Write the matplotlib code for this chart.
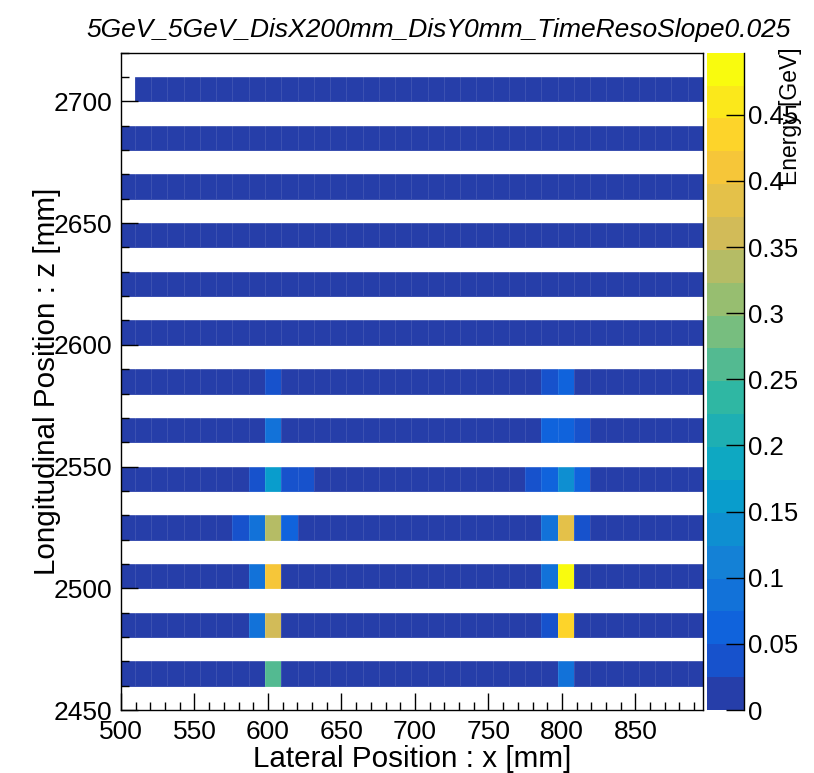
import numpy as np
import matplotlib
matplotlib.use("Agg")
import matplotlib.pyplot as plt
from matplotlib.colors import ListedColormap, BoundaryNorm
from matplotlib.ticker import MultipleLocator

plt.rcParams['font.family'] = ['Liberation Sans', 'DejaVu Sans']

title = "5GeV_5GeV_DisX200mm_DisY0mm_TimeResoSlope0.025"
x_label = "Lateral Position : x [mm]"
y_label = "Longitudinal Position : z [mm]"
z_label = "Energy [GeV]"

# calorimeter cell geometry
x_first_edge = 498.44
cell_width = 11.06
n_cols = 36
layer_z = [2460, 2480, 2500, 2520, 2540, 2560, 2580, 2600, 2620, 2640, 2660, 2680, 2700]
layer_thickness = 10

# energy of ordinary cells and of the showering cells
base_energy = 0.006
hot_z = [2580, 2580, 2580,
         2560, 2560, 2560, 2560,
         2540, 2540, 2540, 2540, 2540, 2540, 2540, 2540,
         2520, 2520, 2520, 2520, 2520, 2520, 2520,
         2500, 2500, 2500, 2500,
         2480, 2480, 2480, 2480,
         2460, 2460]
hot_col = [9, 26, 27,
           9, 26, 27, 28,
           8, 9, 10, 11, 25, 26, 27, 28,
           7, 8, 9, 10, 26, 27, 28,
           8, 9, 26, 27,
           8, 9, 26, 27,
           9, 27]
hot_energy = [0.037, 0.037, 0.062,
              0.087, 0.070, 0.070, 0.040,
              0.040, 0.162, 0.040, 0.040, 0.040, 0.062, 0.137, 0.062,
              0.040, 0.087, 0.336, 0.062, 0.087, 0.385, 0.040,
              0.087, 0.410, 0.087, 0.496,
              0.087, 0.360, 0.040, 0.435,
              0.261, 0.087]
empty_z = [2700]
empty_col = [0]
z_max = 0.497
n_levels = 20

# ROOT "bird" palette
bird_stops = [0.0000, 0.1250, 0.2500, 0.3750, 0.5000, 0.6250, 0.7500, 0.8750, 1.0000]
bird_r = [0.2082, 0.0592, 0.0780, 0.0232, 0.1802, 0.5301, 0.8186, 0.9956, 0.9764]
bird_g = [0.1664, 0.3599, 0.5041, 0.6419, 0.7178, 0.7492, 0.7328, 0.7862, 0.9832]
bird_b = [0.5293, 0.8684, 0.8385, 0.7914, 0.6425, 0.4662, 0.3499, 0.1968, 0.0539]
frac = np.clip([(i + 0.99) / n_levels * 255 / 254 for i in range(n_levels)], 0, 1)
colors = np.stack([np.interp(frac, bird_stops, bird_r),
                   np.interp(frac, bird_stops, bird_g),
                   np.interp(frac, bird_stops, bird_b)], axis=1)
cmap = ListedColormap(colors)
cmap.set_bad((1, 1, 1, 0))
cmap.set_over(colors[-1])
levels = np.linspace(0, z_max, n_levels + 1)
norm = BoundaryNorm(levels, n_levels)

# histogram grid: 10 mm bins in z, filled only where a layer sits
x_edges = x_first_edge + cell_width * np.arange(n_cols + 1)
z_edges = np.arange(2450, 2721, 10)
grid = np.full((len(z_edges) - 1, n_cols), np.nan)
for z in layer_z:
    grid[int((z - 2450) // 10), :] = base_energy
for z, c, e in zip(hot_z, hot_col, hot_energy):
    grid[int((z - 2450) // 10), c] = e
for z, c in zip(empty_z, empty_col):
    grid[int((z - 2450) // 10), c] = np.nan

W, H = 814, 773
fig = plt.figure(figsize=(W / 100, H / 100), dpi=100)
ax = fig.add_axes([121 / W, 1 - 710 / H, 582 / W, (710 - 52.7) / H])
cax = fig.add_axes([707 / W, 1 - 710 / H, 37 / W, (710 - 52.7) / H])

mesh = ax.pcolormesh(x_edges, z_edges, np.ma.masked_invalid(grid), cmap=cmap, norm=norm,
                     edgecolors=(1, 1, 1, 0.10), linewidth=0.5)
ax.set_xlim(500, 896)
ax.set_ylim(2450, 2720)

ax.xaxis.set_major_locator(MultipleLocator(50))
ax.xaxis.set_minor_locator(MultipleLocator(10))
ax.yaxis.set_major_locator(MultipleLocator(50))
ax.yaxis.set_minor_locator(MultipleLocator(10))
ax.xaxis.set_ticks_position('bottom')
ax.yaxis.set_ticks_position('left')
ax.tick_params(which='both', direction='in', labelsize=19, width=1)
ax.tick_params(which='major', length=12)
ax.tick_params(which='minor', length=6)
ax.tick_params(axis='x', pad=7)
ax.tick_params(axis='y', pad=6)
for s in ax.spines.values():
    s.set_linewidth(1)

ax.set_xlabel(x_label, fontsize=21.3)
ax.set_ylabel(y_label, fontsize=21.3)
ax.xaxis.set_label_coords(0.5, -0.053)
ax.yaxis.set_label_coords(-0.103, 0.5)

fig.text(439 / W, 1 - 30 / H, title, fontsize=19, style='italic',
         ha='center', va='center')

cb = fig.colorbar(mesh, cax=cax, ticks=np.arange(0, 0.46, 0.05))
cb.outline.set_visible(False)
cax.set_yticklabels([f"{v:g}" for v in np.round(np.arange(0, 0.46, 0.05), 2)])
cax.tick_params(direction='in', length=13, width=1, labelsize=18.5, pad=3)
cax.minorticks_off()
cax.plot([1, 1], [0, 1], transform=cax.transAxes, color='black', lw=1, clip_on=False)
fig.text(790 / W, 1 - 47 / H, z_label, rotation=90, fontsize=16.5, ha='center', va='top')

fig.savefig("out.png", dpi=100)
